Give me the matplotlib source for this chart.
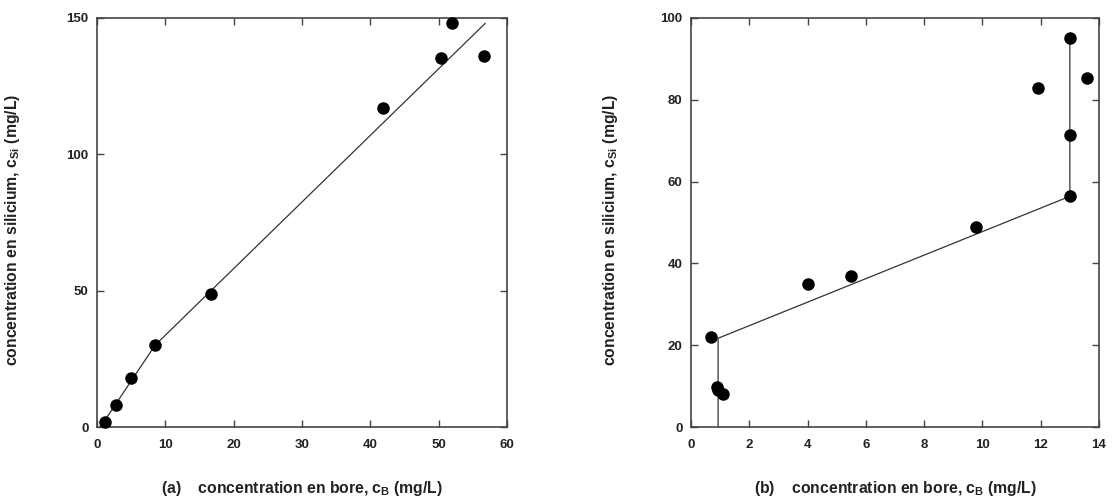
import matplotlib
matplotlib.use("Agg")
import matplotlib.pyplot as plt

plt.rcParams["font.family"] = ["Liberation Sans", "DejaVu Sans"]
plt.rcParams["font.weight"] = "bold"
plt.rcParams["mathtext.fontset"] = "custom"
plt.rcParams["mathtext.rm"] = "Liberation Sans:bold"
plt.rcParams["mathtext.bf"] = "Liberation Sans:bold"

# panel (a): boron vs silicon, all samples
bore_a = [1.16, 2.78, 5.04, 8.51, 16.7, 41.9, 50.4, 52.0, 56.6]
si_a = [1.96, 8.2, 17.9, 29.9, 48.8, 117.0, 135.2, 148.0, 136.0]
fit_a_x = [0.5, 8.5, 56.8]
fit_a_y = [0.0, 30.0, 148.0]

# panel (b): low boron samples
bore_b = [0.68, 0.88, 0.92, 1.10, 4.0, 5.5, 9.78, 11.9, 13.0, 13.0, 13.0, 13.58]
si_b = [21.9, 9.8, 9.0, 8.0, 34.9, 36.9, 48.9, 83.0, 95.0, 71.4, 56.4, 85.3]
fit_b_x = [0.93, 0.93, 13.0, 13.0]
fit_b_y = [0.0, 21.7, 56.4, 95.0]

xticks_a = [0, 10, 20, 30, 40, 50, 60]
yticks_a = [0, 50, 100, 150]
xticks_b = [0, 2, 4, 6, 8, 10, 12, 14]
yticks_b = [0, 20, 40, 60, 80, 100]

ylabel = r"concentration en silicium, c$_{\mathbf{Si}}$ (mg/L)"
xlabel = r"concentration en bore, c$_{\mathbf{B}}$ (mg/L)"

W, H = 1119, 497
fig = plt.figure(figsize=(W / 100, H / 100), dpi=100)

panels = [
    (97, 507, bore_a, si_a, fit_a_x, fit_a_y, xticks_a, yticks_a, (0, 60), (0, 150), "(a)", 13),
    (691, 1099, bore_b, si_b, fit_b_x, fit_b_y, xticks_b, yticks_b, (0, 14), (0, 100), "(b)", 610),
]

for x0, x1, xs, ys, fx, fy, xt, yt, xl, yl, tag, ylab_x in panels:
    ax = fig.add_axes([x0 / W, (H - 427) / H, (x1 - x0) / W, (427 - 18) / H])
    ax.plot(fx, fy, color="#333333", lw=0.9, zorder=2)
    ax.plot(xs, ys, "o", color="black", ms=8, zorder=3, clip_on=False)
    ax.set_xlim(*xl)
    ax.set_ylim(*yl)
    ax.set_xticks(xt)
    ax.set_yticks(yt)
    ax.tick_params(direction="in", top=True, right=True, length=5, width=1,
                   color="#444444", labelsize=9.5, labelcolor="#222222")
    ax.tick_params(axis="x", pad=9)
    ax.tick_params(axis="y", pad=6)
    for s in ax.spines.values():
        s.set_color("#444444")
        s.set_linewidth(1.2)
    fig.text((x0 + x1) / 2 / W, 4 / H, tag + "    " + xlabel, ha="center",
             va="baseline", fontsize=11.3, color="#222222")
    fig.text(ylab_x / W, 1 - 230 / H, ylabel, rotation=90, ha="center",
             va="center", fontsize=11.3, color="#222222")

fig.savefig("out.png", dpi=100)
